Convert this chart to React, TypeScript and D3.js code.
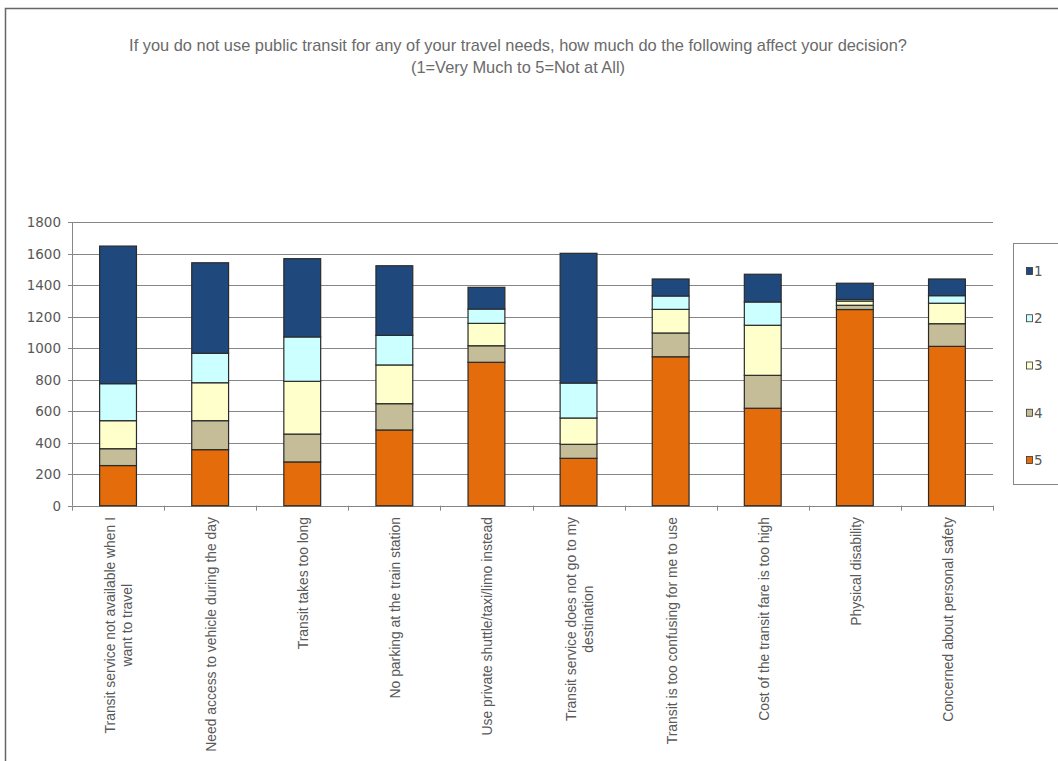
import React, { useEffect, useRef } from "react";
import * as d3 from "d3";

const categories: string[][] = [
  ["Transit service not available when I", "want to travel"],
  ["Need access to vehicle during the day"],
  ["Transit takes too long"],
  ["No parking at the train station"],
  ["Use private shuttle/taxi/limo instead"],
  ["Transit service does not go to my", "destination"],
  ["Transit is too confusing for me to use"],
  ["Cost of the transit fare is too high"],
  ["Physical disability"],
  ["Concerned about personal safety"],
];

const seriesKeys = ["5", "4", "3", "2", "1"];
const legendKeys = ["1", "2", "3", "4", "5"];

const values5 = [255, 356, 278, 481, 911, 301, 946, 619, 1246, 1012];
const values4 = [107, 184, 177, 167, 105, 89, 151, 209, 27, 144];
const values3 = [178, 241, 335, 246, 142, 167, 150, 318, 27, 130];
const values2 = [235, 187, 282, 188, 91, 222, 85, 148, 10, 48];
const values1 = [874, 575, 497, 442, 138, 824, 108, 176, 103, 106];

const yTicks = [0, 200, 400, 600, 800, 1000, 1200, 1400, 1600, 1800];

const colors: Record<string, string> = {
  "1": "#1f497d",
  "2": "#ccffff",
  "3": "#ffffcc",
  "4": "#c4bd97",
  "5": "#e46c0a",
};

const titleLines = [
  "If you do not use public transit for any of your travel needs, how much do the following affect your decision?",
  "(1=Very Much to 5=Not at All)",
];

export default function App() {
  const ref = useRef<SVGSVGElement>(null);

  useEffect(() => {
    const svg = d3.select(ref.current);
    svg.selectAll("*").remove();
    const W = 1058, H = 761;
    const sans = "'Liberation Sans', Arial, sans-serif";
    const wide = "'DejaVu Sans', Verdana, sans-serif";
    const textColor = "#595959";

    // frame
    svg.append("rect").attr("width", W).attr("height", H).attr("fill", "#fff");
    svg.append("path")
      .attr("d", `M5.5,${H} L5.5,8.5 L${W},8.5`)
      .attr("fill", "none")
      .attr("stroke", "#666")
      .attr("stroke-width", 1.5);

    // title
    svg.append("g").selectAll("text").data(titleLines).join("text")
      .attr("x", 518)
      .attr("y", (_, i) => 51 + i * 22)
      .attr("text-anchor", "middle")
      .attr("font-family", sans)
      .attr("font-size", 16.4)
      .attr("fill", "#6a6a6a")
      .text((d) => d);

    const x0 = 72, x1 = 993, yTop = 222.3, yBot = 505.7;
    const x = d3.scaleBand<number>().domain(d3.range(categories.length)).range([x0, x1]).paddingInner(0.6).paddingOuter(0.3);
    const xb = d3.scaleBand<number>().domain(d3.range(categories.length)).range([x0, x1]);
    const y = d3.scaleLinear().domain([0, 1800]).range([yBot, yTop]);

    // gridlines
    const g = svg.append("g");
    g.selectAll("line.grid").data(yTicks).join("line")
      .attr("x1", x0 - 4).attr("x2", x1)
      .attr("y1", (d) => Math.round(y(d)) + 0.5).attr("y2", (d) => Math.round(y(d)) + 0.5)
      .attr("stroke", "#868686").attr("stroke-width", 1);
    // y axis
    g.append("line").attr("x1", x0 + 0.5).attr("x2", x0 + 0.5).attr("y1", y(1800)).attr("y2", yBot)
      .attr("stroke", "#868686");
    // x ticks
    g.selectAll("line.xt").data(d3.range(categories.length + 1)).join("line")
      .attr("x1", (i) => Math.round(x0 + i * xb.bandwidth()) + 0.5)
      .attr("x2", (i) => Math.round(x0 + i * xb.bandwidth()) + 0.5)
      .attr("y1", yBot).attr("y2", yBot + 5)
      .attr("stroke", "#868686");

    // y labels
    g.selectAll("text.yl").data(yTicks).join("text")
      .attr("x", 61).attr("y", (d) => y(d)).attr("dy", "0.36em")
      .attr("text-anchor", "end")
      .attr("font-family", wide).attr("font-size", 13.5)
      .attr("fill", textColor)
      .text((d) => String(d));

    // stacked data
    const valueMap: Record<string, number[]> = { "1": values1, "2": values2, "3": values3, "4": values4, "5": values5 };
    const rows = categories.map((_, i) => {
      const r: Record<string, number> = { idx: i };
      seriesKeys.forEach((k) => (r[k] = valueMap[k][i]));
      return r;
    });
    const stack = d3.stack<Record<string, number>>().keys(seriesKeys);
    const stacked = stack(rows);

    const bars = svg.append("g");
    stacked.forEach((s) => {
      bars.selectAll(null).data(s).join("rect")
        .attr("x", (_, i) => x(i)!)
        .attr("width", x.bandwidth())
        .attr("y", (d) => y(d[1]))
        .attr("height", (d) => y(d[0]) - y(d[1]))
        .attr("fill", colors[s.key])
        .attr("stroke", "#2b2b2b")
        .attr("stroke-width", 1.2);
    });

    // x labels
    const lab = svg.append("g");
    categories.forEach((lines, i) => {
      const cx = x0 + (i + 0.5) * xb.bandwidth();
      const t = lab.append("text")
        .attr("font-family", sans).attr("font-size", 13.9)
        .attr("fill", textColor)
        .attr("text-anchor", "middle");
      const tspans = lines.map((ln) => t.append("tspan").text(ln));
      const maxLen = d3.max(tspans, (ts) => (ts.node() as SVGTextContentElement).getComputedTextLength()) || 0;
      const cy = 517 + maxLen / 2;
      const lh = 17;
      const n = lines.length;
      tspans.forEach((ts, j) => {
        const lx = cx + 1 + (j - (n - 1) / 2) * lh;
        ts.attr("x", -cy).attr("y", lx).attr("dy", "0.35em");
      });
      t.attr("transform", "rotate(-90)");
    });

    // legend
    const lg = svg.append("g");
    lg.append("rect").attr("x", 1013.5).attr("y", 243.5).attr("width", 60).attr("height", 241)
      .attr("fill", "#fff").attr("stroke", "#868686");
    const ly = d3.scalePoint<string>().domain(legendKeys).range([271, 460]);
    legendKeys.forEach((k) => {
      lg.append("rect").attr("x", 1026.5).attr("y", ly(k)! - 3.5).attr("width", 6).attr("height", 7)
        .attr("fill", colors[k]).attr("stroke", "#333").attr("stroke-width", 0.8);
      lg.append("text").attr("x", 1034).attr("y", ly(k)!).attr("dy", "0.36em")
        .attr("font-family", wide).attr("font-size", 13.5).attr("fill", textColor).text(k);
    });
  }, []);

  return (
    <svg ref={ref} width={1058} height={761} style={{ position: "absolute", left: 0, top: 0, display: "block" }} />
  );
}
